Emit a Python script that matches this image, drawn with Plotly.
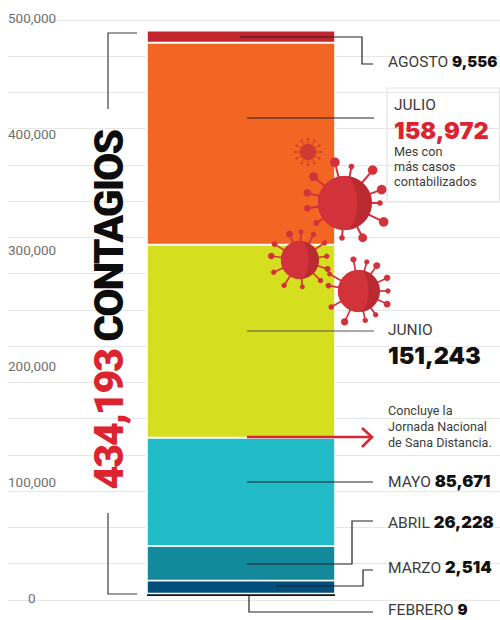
import math
from itertools import accumulate
import plotly.graph_objects as go

# --- data -----------------------------------------------------------------
months = ["FEBRERO", "MARZO", "ABRIL", "MAYO", "JUNIO", "JULIO", "AGOSTO"]
cases = ["9", "2,514", "26,228", "85,671", "151,243", "158,972", "9,556"]
# segment heights as drawn, read against the printed axis
drawn_heights = [2200, 11200, 29700, 93500, 166400, 174100, 10300]
bar_start = 3400
colors = ["#111111", "#004f7c", "#128a9c", "#22bcc9", "#d5df1f", "#f26522", "#c4262e"]
axis_values = [0, 100000, 200000, 300000, 400000, 500000]
axis_labels = ["\u00a0\u00a0\u00a0\u00a0\u00a0\u00a00", "100,000", "200,000", "300,000", "400,000", "500,000"]
grid_values = [31250 * i for i in range(17)]
total = "434,193"

W, H = 500, 620
LEFT = 8
INK = "#3c3c3c"
RED = "#dc2430"
VIRUS = "#d2333b"
VIRUS_DARK = "#b92a31"
FONT = "Roboto"
HEAVY = "Inter"


def py(y):
    return 1 - y / H


bases = [bar_start] + list(accumulate(drawn_heights, initial=bar_start))[1:-1]
fig = go.Figure()
for m, h, b, c in zip(months, drawn_heights, bases, colors):
    fig.add_trace(go.Bar(
        x=[241], y=[h], base=[b], width=[188], name=m, marker_color=c,
        marker_line_color="white", marker_line_width=0 if m == "FEBRERO" else 1.6,
        showlegend=False, hoverinfo="name"))

shapes = []
annotations = []


def rect(x0, y0, x1, y1, fill="white", line=None, layer="between", lw=1):
    shapes.append(dict(type="rect", xref="x", yref="paper", x0=x0, x1=x1, y0=py(y0), y1=py(y1),
                       fillcolor=fill, line=dict(color=line or "rgba(0,0,0,0)", width=lw), layer=layer))


def poly(points, color=INK, width=1.2, fill=None):
    d = "M" + " L".join(f"{x:.2f},{py(y):.5f}" for x, y in points)
    if fill:
        d += " Z"
    shapes.append(dict(type="path", xref="x", yref="paper", path=d, layer="above",
                       fillcolor=fill or "rgba(0,0,0,0)",
                       line=dict(color=color, width=width)))


def text(x, y, s, size=14, color=INK, family=FONT, anchor="left", angle=0, weight=None):
    f = dict(size=size, color=color, family=family)
    if weight:
        f["weight"] = weight
    annotations.append(dict(x=x, y=py(y), xref="x", yref="paper", text=s, showarrow=False,
                            xanchor=anchor, yanchor="middle", font=f, textangle=angle,
                            align="left", borderpad=0, borderwidth=0))


# masks that interrupt the grid
rect(8, 12, 59, 28)
rect(8, 480, 57, 496)
rect(8, 592, 59, 608)
rect(85, 120, 131, 496)
rect(387, 318, 500, 372)
rect(387, 400, 500, 592)
rect(387, 88, 499.5, 202, line="#e3e3e3", lw=1.2, layer="between")

# brackets and leader lines
poly([(108, 109), (108, 33), (137, 33)])
poly([(108, 513), (108, 594), (137, 594)])
poly([(240, 37), (362, 37), (362, 64), (373, 64)], "#222222")
poly([(247, 118), (374, 118)], "#222222")
poly([(247, 331), (374, 331)], "#555555")
poly([(247, 482), (373, 482)], "#222222")
poly([(247, 564), (352, 564), (352, 521), (373, 521)], "#222222")
poly([(276, 586), (363, 586), (363, 570), (373, 570)], "#222222")
poly([(249, 596), (249, 612), (373, 612)], "#222222")
poly([(247, 437), (372, 437)], RED, 2.4)
poly([(362, 428), (372, 437), (362, 447)], RED, 2.6)


def virus(cx, cy, r, spikes, color=VIRUS, dark=VIRUS_DARK, crescent=True, width=2.0):
    for ang, length, ball in spikes:
        a = math.radians(ang)
        tx, ty = cx + length * math.cos(a), cy - length * math.sin(a)
        poly([(cx, cy), (tx, ty)], color, width)
        ring = [(tx + ball * math.cos(t / 8 * math.pi), ty + ball * math.sin(t / 8 * math.pi)) for t in range(16)]
        poly(ring, color, 0.1, fill=color)
    n = 40
    poly([(cx + r * math.cos(2 * math.pi * i / n), cy + r * math.sin(2 * math.pi * i / n)) for i in range(n)],
         dark if crescent else color, 0.1, fill=dark if crescent else color)
    if crescent:
        pts = [(cx + r * math.cos(math.pi / 2 + math.pi * i / n), cy + r * math.sin(math.pi / 2 + math.pi * i / n))
               for i in range(n + 1)]
        pts += [(cx + r * 0.45 * math.cos(-math.pi / 2 + math.pi * i / n),
                 cy + r * math.sin(-math.pi / 2 + math.pi * i / n)) for i in range(n + 1)]
        poly(pts, color, 0.1, fill=color)


virus(345, 203, 27, [(104, 42, 4.8), (80, 37, 2.8), (50, 43, 4.8), (20, 39, 4.8), (0, 35, 2.8),
                     (-26, 43, 4.8), (-63, 39, 4.4), (-95, 35, 2.8), (-145, 35, 2.8),
                     (-172, 38, 3.4), (165, 39, 3.6), (140, 41, 4.4)])
virus(300, 260, 19, [(112, 28, 3.4), (88, 28, 2.4), (62, 29, 2.6), (35, 30, 2.6), (8, 27, 2.6), (-18, 29, 3.0),
                     (-45, 29, 2.6), (-85, 27, 2.4), (-122, 30, 2.6), (-155, 29, 2.6), (172, 29, 3.2),
                     (148, 30, 2.8)], width=1.7)
virus(359, 291, 21, [(100, 32, 3.0), (75, 30, 2.6), (55, 31, 3.4), (25, 31, 3.2), (0, 29, 2.6),
                     (-25, 31, 3.4), (-55, 29, 2.6), (-78, 30, 2.6), (-115, 34, 3.6),
                     (-150, 32, 2.8), (170, 31, 2.8), (150, 34, 2.4)], width=1.7)
virus(308, 152, 8, [(a, 13, 1.0) for a in range(0, 360, 30)], color="#cf3a33", crescent=False, width=0.8)

# big rotated headline
text(108.5, 310, f'<span style="letter-spacing:-2px"><span style="color:{RED}">{total}</span> CONTAGIOS</span>',
     size=41, color="#0d0d0d", family=FONT, anchor="center", angle=-90, weight=900)


def month_line(y, month, value, number_size=16.5):
    text(388, y, f'{month} <span style="font-family:{HEAVY};font-weight:900;font-size:{number_size}px;color:#111111">{value}</span>', size=15.5)


month_line(61, months[6], cases[6], 15)
month_line(481, months[3], cases[3])
month_line(522, months[2], cases[2])
month_line(567, months[1], cases[1])
month_line(609.5, months[0], cases[0], 15)

text(394, 105, "JULIO", size=15.5)
text(394, 130, cases[5], size=23.5, color=RED, family=HEAVY, weight=900)
text(394, 151, "Mes con", size=12.7)
text(394, 166.5, "más casos", size=12.7)
text(394, 182, "contabilizados", size=12.7)
text(388, 330, months[4], size=15.5)
text(388, 355, cases[4], size=23.5, color="#111111", family=HEAVY, weight=900)
text(388, 410, "Concluye la", size=12.6)
text(388, 426, "Jornada Nacional", size=12.6)
text(388, 442, "de Sana Distancia.", size=12.6)

fig.update_layout(
    width=W, height=H, margin=dict(l=LEFT, r=0, t=0, b=0),
    paper_bgcolor="white", plot_bgcolor="white", barmode="overlay",
    shapes=shapes, annotations=annotations, showlegend=False,
    font=dict(family=FONT),
    xaxis=dict(range=[LEFT, W], visible=False, fixedrange=True),
    yaxis=dict(
        range=[-20000 / 1.16, 600000 / 1.16], fixedrange=True,
        tickmode="array", tickvals=axis_values, ticktext=axis_labels,
        ticklabelposition="inside", ticklabelstandoff=-3, ticklabelshift=-2, ticks="",
        tickfont=dict(size=13.5, color="#6f6f6f", family=FONT),
        showgrid=False, zeroline=False, showline=False,
        minor=dict(tickmode="array", tickvals=grid_values, showgrid=True, gridcolor="#e7e7e7", gridwidth=1, ticks=""),
    ),
)
fig.write_html("out.html", post_script="document.body.style.margin='0';", config=dict(displayModeBar=False))
